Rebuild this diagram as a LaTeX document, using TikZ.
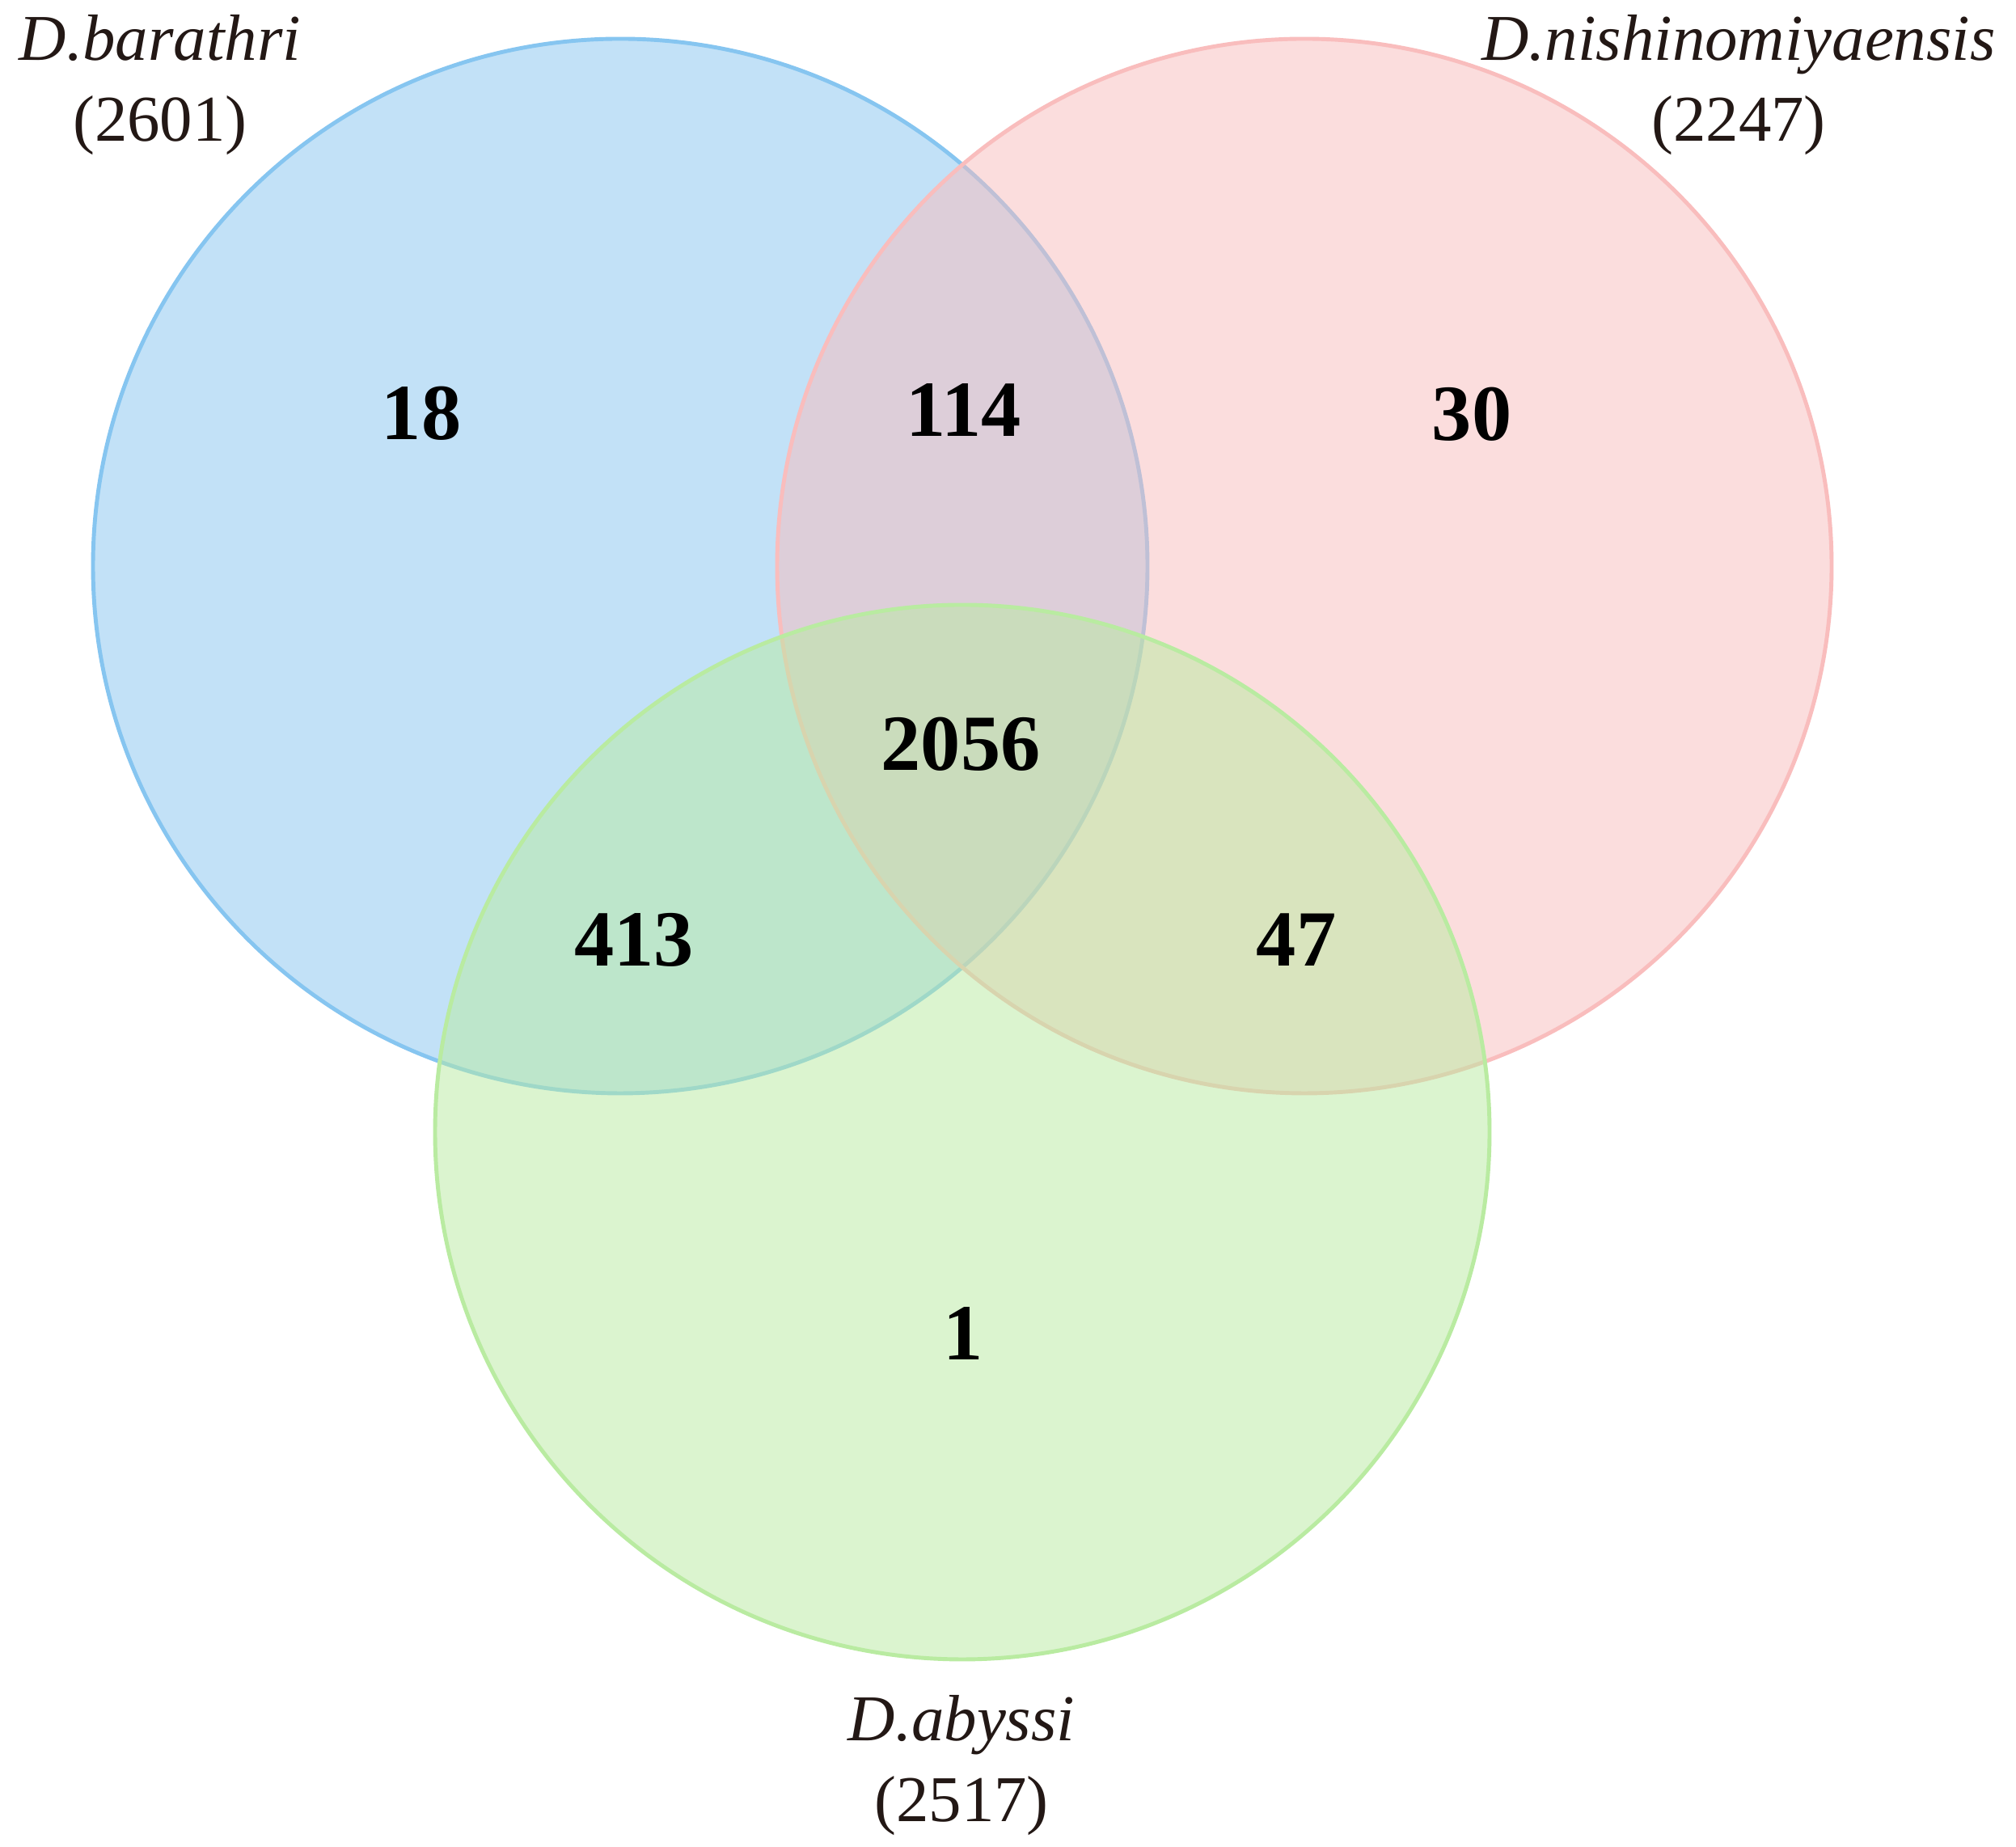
\documentclass[tikz,border=0pt]{standalone}
\usepackage{fontspec}
\setmainfont{Liberation Serif}
\definecolor{cblue}{HTML}{86C5F0}
\definecolor{cpink}{HTML}{F9BDBD}
\definecolor{cgreen}{HTML}{B9EBA1}
\definecolor{txt}{HTML}{231815}
\tikzset{
  setcircle/.style={fill opacity=0.5, line width=1.4pt},
  count/.style={font=\fontsize{28}{30}\selectfont\bfseries, text=black, inner sep=0pt},
  setlabel/.style={font=\fontsize{23}{28.3}\selectfont, text=txt, align=center, inner sep=0pt}
}
\begin{document}
\begin{tikzpicture}
\useasboundingbox (0,0) rectangle (24.93,22.84);
\fill[white] (0,0) rectangle (24.93,22.84);
\coordinate (cb) at (7.67,15.84);
\coordinate (cp) at (16.13,15.84);
\coordinate (cg) at (11.90,8.84);
\draw[setcircle, fill=cblue, draw=cblue] (cb) circle (6.52);
\draw[setcircle, fill=cpink, draw=cpink] (cp) circle (6.52);
\draw[setcircle, fill=cgreen, draw=cgreen] (cg) circle (6.52);
\node[count] (n18) at (5.21,17.73) {18};
\node[count] (n114) at (11.92,17.77) {114};
\node[count] (n30) at (18.20,17.72) {30};
\node[count] (n2056) at (11.88,13.64) {2056};
\node[count] (n413) at (7.84,11.22) {413};
\node[count] (n47) at (16.03,11.22) {47};
\node[count] (n1) at (11.91,6.35) {1};
\node[setlabel] (lb) at (1.98,21.79) {\textit{D.barathri}\\(2601)};
\node[setlabel] (lp) at (21.50,21.79) {\textit{D.nishinomiyaensis}\\(2247)};
\node[setlabel] (lg) at (11.89,1.01) {\textit{D.abyssi}\\(2517)};
\end{tikzpicture}
\end{document}
